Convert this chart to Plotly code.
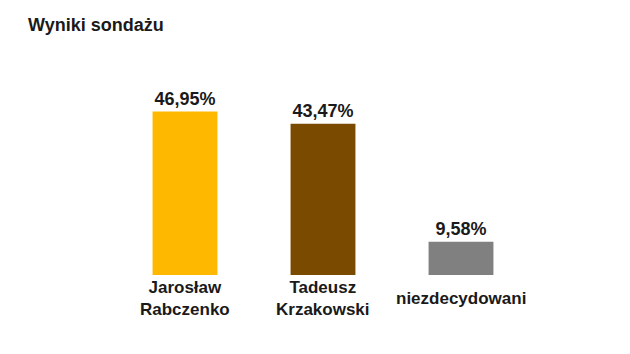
import plotly.graph_objects as go

categories = ["Jarosław<br>Rabczenko", "Tadeusz<br>Krzakowski", "niezdecydowani"]
values = [46.95, 43.47, 9.58]
value_labels = ["46,95%", "43,47%", "9,58%"]
colors = ["#FFB800", "#7A4A00", "#808080"]
title_text = "Wyniki sondażu"

FONT = "Liberation Sans, Arial, sans-serif"
TXT = "#1a1a1a"

fig = go.Figure(go.Bar(
    x=categories, y=values, marker_color=colors, marker_line_width=0,
    text=value_labels, textposition="outside", cliponaxis=False,
    textfont=dict(family=FONT, size=18, color=TXT, weight="bold"),
))

annotations = [
    dict(x=cat, y=0, xref="x", yref="y", text=cat, showarrow=False,
         yanchor="middle", yshift=-23,
         font=dict(family=FONT, size=17, color=TXT, weight="bold"))
    for cat in categories
]

fig.update_layout(
    width=630, height=354,
    margin=dict(l=116, r=100, t=101, b=79, pad=0),
    paper_bgcolor="white", plot_bgcolor="white",
    bargap=0.53,
    showlegend=False,
    title=dict(text=title_text, xref="container", yref="container",
               x=28 / 630, xanchor="left", y=1 - 25 / 354, yanchor="middle",
               font=dict(family=FONT, size=18, color=TXT, weight="bold")),
    xaxis=dict(showticklabels=False, showgrid=False, zeroline=False, showline=False,
               ticks=""),
    yaxis=dict(range=[0, 50], visible=False),
    annotations=annotations,
)

fig.write_html("out.html")
